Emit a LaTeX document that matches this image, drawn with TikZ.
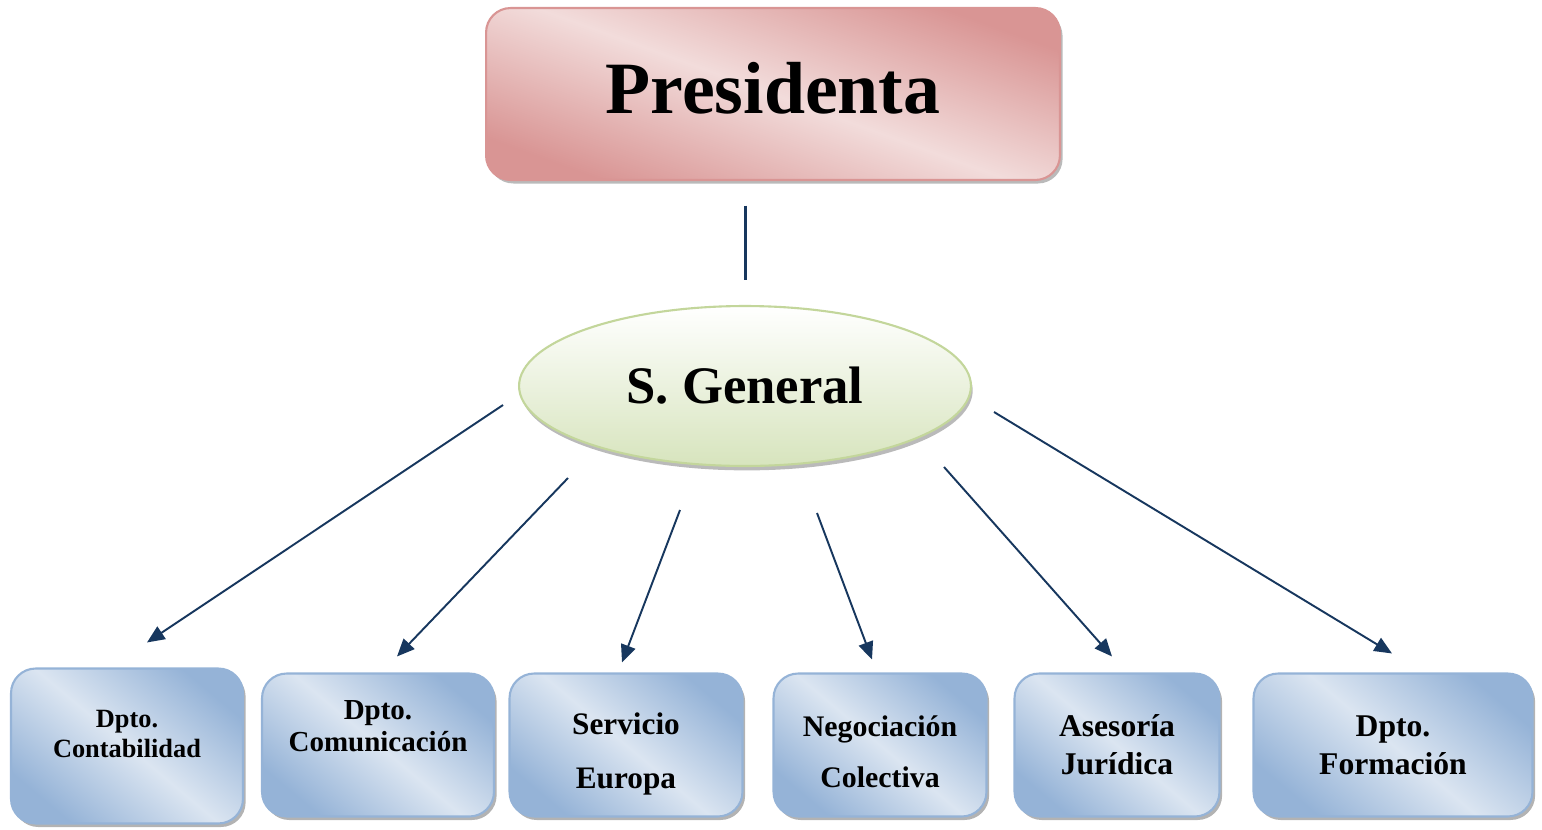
\documentclass[tikz,border=0pt]{standalone}
\usepackage{fontspec}
\setmainfont{Liberation Serif}
\usepackage{xcolor}
\usepackage{tikz}
\usetikzlibrary{shapes.geometric,shadows,arrows.meta,calc}

\definecolor{rosaosc}{HTML}{D99594}
\definecolor{rosacla}{HTML}{F2DCDB}
\definecolor{azulosc}{HTML}{95B3D7}
\definecolor{azulcla}{HTML}{DBE5F1}
\definecolor{verdecla}{HTML}{D7E4BD}
\definecolor{verdeborde}{HTML}{C3D69B}
\definecolor{flecha}{HTML}{17375E}

\begin{document}
\begin{tikzpicture}[x=0.02cm,y=-0.02cm]
				\tikzset{pres box/.style={draw=rosaosc, line width=1.2pt, rounded corners=14pt,
						minimum width=11.48cm, minimum height=3.44cm, text depth=7pt,
						top color=rosaosc, bottom color=rosaosc, middle color=rosacla, shading angle=-20,
						drop shadow={shadow xshift=1.5pt, shadow yshift=-2pt, fill=black!45, opacity=.6},
						font=\fontsize{42}{50}\selectfont\bfseries}}
				\tikzset{sg oval/.style={ellipse, draw=verdeborde, line width=1.2pt,
						minimum width=9.04cm, minimum height=3.2cm, inner sep=0pt,
						top color=white, bottom color=verdecla,
						drop shadow={shadow xshift=1pt, shadow yshift=-2.5pt, fill=black!45, opacity=.6},
						font=\fontsize{30}{36}\selectfont\bfseries}}
				\tikzset{dept box/.style={draw=azulosc, line width=1.2pt, rounded corners=14pt,
						minimum width=#1, minimum height=2.86cm,
						top color=azulosc, bottom color=azulosc, middle color=azulcla, shading angle=-40,
						drop shadow={shadow xshift=1.5pt, shadow yshift=-2pt, fill=black!50, opacity=.6}}}
				\tikzset{dept text/.style={align=center, font=\bfseries}}
				\tikzset{link/.style={draw=flecha, line width=1.1pt, -{Triangle[length=10pt,width=8.5pt]}}}

				\useasboundingbox (0,0) rectangle (1542,829);

				\node[pres box] (pres) at (773,94) {Presidenta};
				\node[sg oval] (sg) at (745,386) {S. General};

				\node[dept box=4.64cm, minimum height=3.1cm,
					label={[dept text, yshift=6.8pt, font=\fontsize{15}{17}\selectfont\bfseries]center:Dpto.\\Contabilidad}] (d1) at (127,746) {};
				\node[dept box=4.64cm,
					label={[dept text, yshift=10.8pt, font=\fontsize{16.5}{18}\selectfont\bfseries]center:Dpto.\\Comunicación}] (d2) at (378,745) {};
				\node[dept box=4.66cm,
					label={[dept text, yshift=-5pt, font=\fontsize{17.8}{30.6}\selectfont\bfseries]center:Servicio\\Europa}] (d3) at (626,745) {};
				\node[dept box=4.26cm,
					label={[dept text, yshift=-3.7pt, font=\fontsize{17}{29}\selectfont\bfseries]center:Negociación\\Colectiva}] (d4) at (880,745) {};
				\node[dept box=4.1cm,
					label={[dept text, font=\fontsize{18}{21.5}\selectfont\bfseries]center:Asesoría\\Jurídica}] (d5) at (1117,745) {};
				\node[dept box=5.58cm,
					label={[dept text, font=\fontsize{18}{21.5}\selectfont\bfseries]center:Dpto.\\Formación}] (d6) at (1393,745) {};

				% presidenta -> secretaria general
				\draw[draw=flecha, line width=1.7pt, shorten <=14pt, shorten >=14pt] (pres.south -| sg.north) -- (sg.north);

				% salidas de las flechas
				\coordinate (s1) at (503,405);
				\coordinate (s2) at (568,478);
				\coordinate (s3) at (680,510);
				\coordinate (s4) at (817,513);
				\coordinate (s5) at (944,467);
				\coordinate (s6) at (994,412);

				\draw[link] (s1) -- ($(d1.north)+(20,-25)$);
				\draw[link] (s2) -- ($(d2.north)+(19,-16)$);
				\draw[link] (s3) -- ($(d3.north)+(-4,-10)$);
				\draw[link] (s4) -- ($(d4.north)+(-8,-13)$);
				\draw[link] (s5) -- ($(d5.north)+(-5,-16)$);
				\draw[link] (s6) -- ($(d6.north)+(-1,-19)$);
			\end{tikzpicture}
\end{document}
